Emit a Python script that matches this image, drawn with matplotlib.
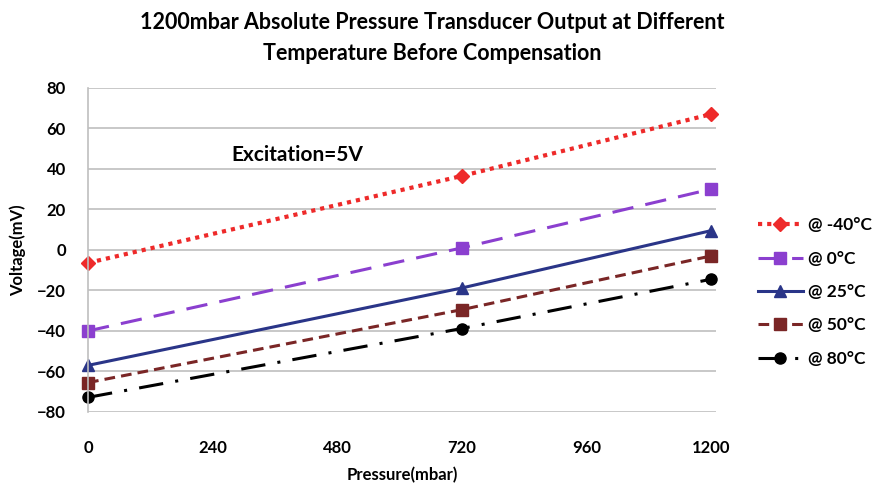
import numpy as np
import matplotlib.pyplot as plt

plt.rcParams['font.family'] = ['Lato', 'DejaVu Sans']
plt.rcParams['font.weight'] = 'bold'

# pressure (mbar) and output voltage (mV)
pressure = [0, 720, 1200]
v_m40 = [-6.4, 36.5, 67]
v_0 = [-40, 1, 30]
v_25 = [-57, -18.8, 9.5]
v_50 = [-65.5, -29.5, -3]
v_80 = [-72.8, -38.8, -14.5]
labels = ['@ -40°C', '@ 0°C', '@ 25°C', '@ 50°C', '@ 80°C']

fig = plt.figure(figsize=(8.76, 4.91), dpi=100)
ax = fig.add_axes([0.1005, 0.161, 0.717, 0.66])

ax.plot(pressure, v_m40, color='#ee2a2a', linestyle=(0, (1, 1.2)), lw=3,
        marker='D', ms=7, label=labels[0])
ax.plot(pressure, v_0, color='#8b3fcf', linestyle=(0, (7, 4)), lw=2.2,
        marker='s', ms=9, label=labels[1])
ax.plot(pressure, v_25, color='#2a3588', linestyle='-', lw=2.2,
        marker='^', ms=9, label=labels[2])
ax.plot(pressure, v_50, color='#7a2626', linestyle=(0, (3.5, 2)), lw=2.2,
        marker='s', ms=8, label=labels[3])
ax.plot(pressure, v_80, color='black', linestyle=(0, (8, 4, 1, 4)), lw=2.2,
        marker='o', ms=8, label=labels[4])

ax.set_xlim(0, 1210)
ax.set_ylim(-80, 80)
ax.set_xticks([0, 240, 480, 720, 960, 1200])
ax.set_yticks(np.arange(-80, 81, 20))
ax.yaxis.grid(True, color='#bfbfbf', lw=1.2)
ax.set_axisbelow(True)
for s in ['top', 'right', 'bottom']:
    ax.spines[s].set_visible(False)
ax.spines['left'].set_color('#bfbfbf')
ax.spines['left'].set_linewidth(1.2)
ax.tick_params(length=0, labelsize=12)
ax.tick_params(axis='x', pad=20)
ax.tick_params(axis='y', pad=16)
for t in ax.get_xticklabels() + ax.get_yticklabels():
    t.set_fontweight('bold')
ax.set_xlabel('Pressure(mbar)', fontsize=12, fontweight='bold', labelpad=8)
ax.set_ylabel('Voltage(mV)', fontsize=12, fontweight='bold', labelpad=8)
for line in ax.get_lines():
    line.set_clip_on(False)

ax.text(277, 44, 'Excitation=5V', fontsize=15, fontweight='bold')

fig.suptitle('1200mbar Absolute Pressure Transducer Output at Different\n'
             'Temperature Before Compensation', fontsize=15.5, fontweight='bold',
             x=0.494, y=0.975, linespacing=1.55)

leg = ax.legend(loc='center left', bbox_to_anchor=(1.055, 0.37), frameon=False,
                borderaxespad=0, fontsize=12.5, handlelength=2.6,
                handletextpad=0.3, labelspacing=1.0)
for t in leg.get_texts():
    t.set_fontweight('bold')

fig.savefig('out.png', dpi=100)
